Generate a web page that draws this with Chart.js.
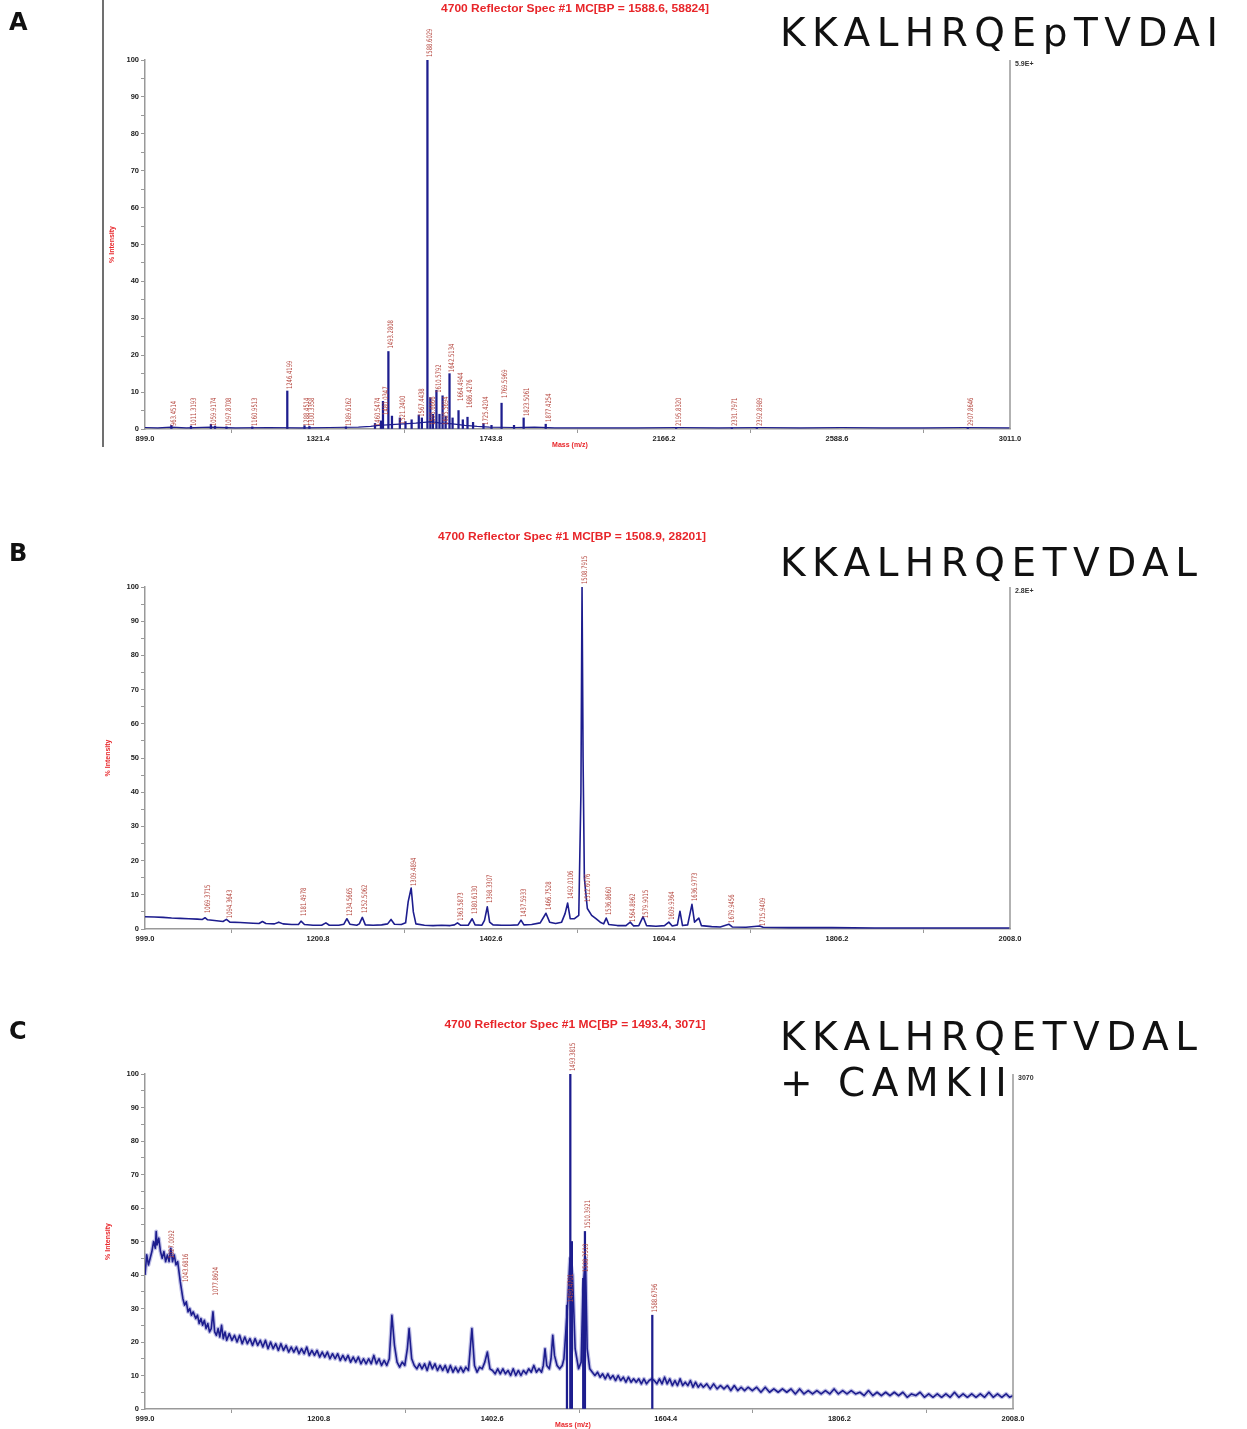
<!DOCTYPE html>
<html>
<head>
<meta charset="utf-8">
<title>MALDI spectra</title>
<script src="https://cdn.jsdelivr.net/npm/chart.js@4.4.1/dist/chart.umd.min.js"></script>
<style>
  body { margin: 0; background: #fff; width: 1247px; height: 1429px; position: relative; overflow: hidden; }
  .panel { position: absolute; left: 0; }
  .letter { position: absolute; left: 9px; font: bold 24px 'DejaVu Sans', sans-serif; color: #111; line-height: 24px; }
  .pep { position: absolute; left: 780px; font: 39px 'DejaVu Sans', sans-serif; line-height: 39px; letter-spacing: 6.5px; color: #111; white-space: nowrap; }
  .frame { position: absolute; left: 102px; top: 0; width: 2px; height: 447px; background: #707070; }
</style>
</head>
<body>
<div class="frame"></div>
<canvas id="chartA" class="panel" style="top:0px" width="1247" height="460"></canvas>
<canvas id="chartB" class="panel" style="top:500px" width="1247" height="460"></canvas>
<canvas id="chartC" class="panel" style="top:990px" width="1247" height="439"></canvas>

<div class="letter" style="top:10px">A</div>
<div class="letter" style="top:541px">B</div>
<div class="letter" style="top:1019px">C</div>
<div class="pep" style="top:13px">KKALHRQEpTVDAI</div>
<div class="pep" style="top:543px">KKALHRQETVDAL</div>
<div class="pep" style="top:1017px">KKALHRQETVDAL</div>
<div class="pep" style="top:1063px">+ CAMKII</div>

<script>
// x axis tick labels (m/z)
var ticksA = [899.0, 1321.4, 1743.8, 2166.2, 2588.6, 3011.0];
var ticksBC = [999.0, 1200.8, 1402.6, 1604.4, 1806.2, 2008.0];

// panel A: baseline [m/z, %] and centroid sticks
var baseA = [[899,0.4],[930,0.3],[963,0.5],[1000,0.3],[1060,0.5],[1120,0.3],[1200,0.4],[1280,0.3],[1350,0.4],[1420,0.5],
  [1450,0.7],[1470,1.0],[1500,1.2],[1530,1.4],[1560,1.6],[1580,1.8],[1600,2.0],[1620,1.6],[1650,1.4],[1680,1.0],
  [1710,0.7],[1740,0.5],[1800,0.4],[1850,0.5],[1900,0.3],[2000,0.3],[2100,0.3],[2200,0.4],[2300,0.3],[2400,0.4],
  [2500,0.3],[2600,0.4],[2700,0.3],[2800,0.3],[2900,0.4],[3011,0.3]];
var sticksA = [[963.45,1],[1011.32,0.8],[1059.92,1.3],[1070,0.8],[1097.87,0.6],[1160.95,0.6],[1246.42,10.3],[1288.45,0.9],
  [1300.34,0.7],[1389.62,0.6],[1460.55,1.5],[1475,2.2],[1480.03,7.5],[1493.28,21],[1502,3.5],[1521.24,3],[1535,2],
  [1550,2.5],[1567.44,3.8],[1575,3],[1588.60,100],[1595.67,8.5],[1602,4],[1610.58,10.5],[1618,4],[1625.57,9],
  [1633,3.5],[1642.51,15],[1650,3],[1664.49,5],[1675,2.5],[1686.43,3.2],[1700,1.8],[1725.42,1.5],[1745,1],
  [1769.60,7],[1800,1],[1823.51,3],[1877.43,1.3],[2195.83,0.3],[2331.80,0.3],[2392.90,0.3],[2907.86,0.3]];
// peak labels: [text, intensity where the label starts]
var labA = [['963.4514',0],['1011.3193',0],['1059.9174',0],['1097.8708',0],['1160.9513',0],['1246.4199',10],
  ['1288.4514',0],['1300.3358',0],['1389.6162',0],['1460.5474',0],['1480.0347',3],['1493.2808',21],['1521.2400',0.5],
  ['1567.4438',2.5],['1588.6029',100],['1595.6666',0.3],['1610.5792',9],['1625.5694',0.3],['1642.5134',14.6],
  ['1664.4944',6.8],['1686.4276',4.9],['1725.4204',0.3],['1769.5969',7.6],['1823.5061',2.7],['1877.4254',1.1],
  ['2195.8320',0],['2331.7971',0],['2392.8989',0],['2907.8646',0]];

// panel B: profile
var baseB = [[999,3.6],[1010,3.5],[1020,3.4],[1030,3.2],[1040,3.1],[1050,3.0],[1060,2.9],[1066,2.8],[1069,3.3],[1072,2.7],
  [1080,2.5],[1090,2.2],[1094,2.8],[1098,2.0],[1110,1.9],[1125,1.7],[1132,1.6],[1136,2.2],[1140,1.6],[1150,1.5],
  [1155,2.0],[1160,1.5],[1170,1.3],[1178,1.3],[1181,2.3],[1185,1.3],[1195,1.1],[1205,1.1],[1210,1.8],[1214,1.1],
  [1225,1.1],[1231,1.4],[1234.5,3.0],[1238,1.4],[1246,1.1],[1249,1.5],[1252.5,3.4],[1256,1.2],[1265,1.1],[1275,1.2],
  [1282,1.5],[1286,2.8],[1290,1.4],[1298,1.3],[1303,1.8],[1306,8],[1309.5,12],[1312,5],[1315,1.5],[1325,1.1],
  [1335,1.0],[1345,1.1],[1355,1.0],[1360,1.2],[1363.5,1.8],[1367,1.1],[1376,1.1],[1380.6,3.0],[1384,1.2],[1392,1.1],
  [1395,2.5],[1398.3,6.5],[1401,2.0],[1405,1.2],[1415,1.1],[1425,1.1],[1434,1.2],[1437.6,2.6],[1441,1.2],[1450,1.3],
  [1460,1.8],[1466.7,4.6],[1471,2.0],[1478,1.6],[1485,2.0],[1489,4.5],[1492,7.6],[1495,3.0],[1500,3.0],[1505,4.0],
  [1507.5,40],[1508.8,100],[1510,50],[1511.5,15],[1512.6,12],[1515,6],[1520,4],[1525,3],[1530,2],[1534,1.5],
  [1537,3.2],[1540,1.3],[1550,1.0],[1560,1.0],[1565,2.0],[1569,0.9],[1575,1.0],[1580,3.6],[1584,1.0],[1595,0.8],
  [1605,1.0],[1610,2.0],[1614,0.9],[1620,1.2],[1623,5.2],[1626,1.0],[1632,1.2],[1637,7.2],[1640,2.0],[1645,3.2],
  [1648,1.0],[1660,0.7],[1670,0.6],[1680,1.4],[1684,0.6],[1700,0.5],[1716,0.9],[1720,0.5],[1750,0.4],[1800,0.4],
  [1850,0.3],[1900,0.3],[1950,0.3],[2008,0.3]];
var sticksB = [];
var labB = [['1069.3715',3.8],['1094.3643',2.3],['1181.4978',2.9],['1234.5665',2.9],['1252.5062',3.8],['1309.4894',11.7],
  ['1363.5873',1.5],['1380.6130',3.5],['1398.3307',6.7],['1437.5933',2.6],['1466.7528',4.7],['1492.0106',7.9],
  ['1508.7915',100],['1512.6076',7],['1536.8660',3.2],['1564.8962',1.2],['1579.9015',2.3],['1609.9364',1.8],
  ['1636.9773',7.3],['1679.9456',0.9],['1715.9409',0]];

// panel C: noisy profile + main peaks
var baseC = [[999,40],[1001,46],[1003,43],[1005,45],[1007,47],[1009,50],[1011,48],[1012,53],[1013,49],[1015,51],
  [1017,47],[1019,45],[1021,47],[1023,44],[1025,46],[1027,44],[1029,48],[1031,44],[1033,46],[1035,43],
  [1037,44],[1040,38],[1043,33],[1045,31],[1047,32],[1049,29],[1051,30],[1053,28],[1055,29],[1058,27],
  [1060,28],[1062,25.5],[1064,27],[1066,25],[1068,26.5],[1070,24],[1072,25.5],[1074,23],[1076,24],[1078,29],
  [1080,23],[1082,22],[1084,24],[1086,21.5],[1088,25],[1090,21],[1092,23],[1094,20.5],[1097,22.5],[1100,20.5],
  [1103,22],[1106,20],[1109,22],[1112,19.5],[1115,21.5],[1118,19.5],[1121,21],[1124,19],[1127,21],[1130,19],
  [1133,20.5],[1136,18.5],[1139,20.5],[1142,18],[1145,20],[1148,18],[1151,19.5],[1154,17.5],[1157,19.5],[1160,17.5],
  [1163,19],[1166,17],[1169,18.5],[1172,17],[1175,18.5],[1178,16.5],[1181,18],[1184,16.5],[1187,18.5],[1190,16],
  [1193,17.5],[1196,16],[1199,17.5],[1202,15.5],[1205,17],[1208,15.5],[1211,17],[1214,15],[1217,16.5],[1220,15],
  [1223,16.5],[1226,14.5],[1229,16],[1232,14.5],[1235,16],[1238,14],[1241,15.5],[1244,14],[1247,15.5],[1250,13.5],
  [1253,15],[1256,13.5],[1259,15],[1262,13.5],[1265,16],[1268,13.5],[1271,15],[1274,13],[1277,14.5],[1280,13],
  [1283,15],[1286,28],[1289,19],[1292,14],[1295,12.5],[1298,14],[1301,13],[1304,18],[1306,24],[1309,15],
  [1312,13],[1315,12],[1318,13.5],[1321,12],[1324,13.5],[1327,11.5],[1330,14],[1333,12],[1336,13.5],[1339,11.5],
  [1342,13],[1345,11.5],[1348,13],[1351,11],[1354,13],[1357,11],[1360,12.5],[1363,11],[1366,12.5],[1369,11],
  [1372,12.5],[1375,11.5],[1379,24],[1382,13],[1385,11],[1388,12.5],[1391,12],[1394,14],[1397,17],[1400,12],
  [1403,11.5],[1406,10.5],[1409,12],[1412,10.5],[1415,12],[1418,10.5],[1421,11.5],[1424,10],[1427,12],[1430,10],
  [1433,11.5],[1436,10],[1439,11.5],[1442,10.5],[1445,12],[1448,11],[1451,13],[1454,11],[1457,12],[1460,11],
  [1462,13],[1464,18],[1466,13],[1469,12],[1471,15],[1473,22],[1475,16],[1478,13],[1481,12],[1484,13],
  [1486,15],[1490,30],[1493,45],[1496,40],[1499,18],[1503,12],[1506,14],[1508,35],[1511,45],[1513,18],
  [1516,12],[1519,11],[1522,10],[1525,11],[1528,9.5],[1531,10.5],[1534,9],[1537,10.5],[1540,9],[1543,10],
  [1546,8.5],[1549,10],[1552,8.5],[1555,9.5],[1558,8],[1561,9.5],[1564,8],[1567,9],[1570,8],[1573,9],
  [1576,7.5],[1579,9],[1582,7.5],[1585,8.5],[1588,9],[1591,8.5],[1594,7.5],[1597,9],[1600,7.5],[1603,9.5],
  [1606,7.5],[1609,9],[1612,7],[1615,8.5],[1618,7],[1621,9],[1624,7],[1627,8],[1630,7],[1633,8.5],
  [1636,6.5],[1639,8],[1642,6.5],[1645,7.5],[1648,6.5],[1652,7.5],[1656,6],[1660,7.5],[1664,6],[1668,7],
  [1672,6],[1676,7],[1680,5.5],[1684,7],[1688,5.5],[1692,6.5],[1696,5.5],[1700,6.5],[1705,5.5],[1710,6.5],
  [1715,5],[1720,6.5],[1725,5],[1730,6],[1735,5],[1740,6],[1745,5],[1750,6],[1755,4.5],[1760,6],
  [1765,4.5],[1770,5.5],[1775,4.5],[1780,5.5],[1785,4.5],[1790,5.5],[1795,4.5],[1800,6],[1805,4.5],[1810,5.5],
  [1815,4.5],[1820,5.5],[1825,4.5],[1830,5],[1835,4],[1840,5.5],[1845,4],[1850,5],[1855,4],[1860,5],
  [1865,4],[1870,5],[1875,4],[1880,5],[1885,3.5],[1890,4.5],[1895,4],[1900,5],[1905,3.5],[1910,4.5],
  [1915,3.5],[1920,4.5],[1925,3.5],[1930,4.5],[1935,3.5],[1940,5],[1945,3.5],[1950,4.5],[1955,3.5],[1960,4.5],
  [1965,3.5],[1970,4.5],[1975,3.5],[1980,5],[1985,3.5],[1990,4.5],[1995,3.5],[2000,4.5],[2004,3.5],[2008,4]];
var sticksC = [[1489.5,31],[1493.4,100],[1495.2,50],[1508.4,39],[1510.4,53],[1588.7,28]];
var labC = [['1027.0092',44],['1043.6816',37],['1077.8604',33],['1490.4701',31],['1493.3815',100],
  ['1508.3510',40],['1510.3921',53],['1588.6796',28]];

var navy = '#1d1d8e';
var tickFont = { family: "'Liberation Sans', Arial, sans-serif", size: 7.5, weight: 'bold' };

// draws title, right axis, axis titles and peak labels
var overlay = {
  id: 'overlay',
  afterDraw: function (chart, args, o) {
    var ctx = chart.ctx, a = chart.chartArea;
    var xs = chart.scales.x, ys = chart.scales.y;
    ctx.save();
    // right axis
    ctx.strokeStyle = '#999';
    ctx.lineWidth = 1.5;
    ctx.beginPath();
    ctx.moveTo(a.right, a.top);
    ctx.lineTo(a.right, a.bottom);
    ctx.stroke();
    ctx.fillStyle = '#333';
    ctx.font = "bold 7px 'Liberation Sans', Arial, sans-serif";
    ctx.textAlign = 'left';
    ctx.textBaseline = 'middle';
    ctx.fillText(o.scaleText, a.right + 5, a.top + 4);
    // title, stretched a little
    ctx.fillStyle = '#e8262a';
    ctx.font = "bold 10px 'Liberation Sans', Arial, sans-serif";
    ctx.textAlign = 'center';
    ctx.save();
    ctx.translate(o.titleX, o.titleY);
    ctx.scale(1.2, 1);
    ctx.fillText(o.title, 0, 0);
    ctx.restore();
    // axis titles
    ctx.font = "bold 7px 'Liberation Sans', Arial, sans-serif";
    if (o.massLabel) ctx.fillText('Mass (m/z)', o.massX, o.massY);
    ctx.save();
    ctx.translate(o.intX, (a.top + a.bottom) / 2);
    ctx.rotate(-Math.PI / 2);
    ctx.fillText('% Intensity', 0, 0);
    ctx.restore();
    // peak labels
    ctx.fillStyle = '#b5473f';
    ctx.font = "7.5px 'Liberation Sans Narrow', 'DejaVu Sans Condensed', sans-serif";
    ctx.textAlign = 'left';
    o.labels.forEach(function (l) {
      var x = xs.getPixelForValue(parseFloat(l[0])) + 3;
      var y = ys.getPixelForValue(l[1]) - 3;
      ctx.save();
      ctx.translate(x, y);
      ctx.rotate(-Math.PI / 2);
      ctx.scale(0.78, 1);
      ctx.fillText(l[0], 0, 0);
      ctx.restore();
    });
    ctx.restore();
  }
};

function makeSpectrum(id, p) {
  var pts = function (arr) { return arr.map(function (d) { return { x: d[0], y: d[1] }; }); };
  var datasets = [];
  if (p.halo) {
    datasets.push({ type: 'line', data: pts(p.base), borderColor: 'rgba(70,70,180,0.35)', borderWidth: 4, borderJoinStyle: 'round', pointRadius: 0, tension: 0, order: 3 });
  }
  datasets.push({ type: 'line', data: pts(p.base), borderColor: navy, borderWidth: p.lw, borderJoinStyle: 'round', pointRadius: 0, tension: 0, order: 2 });
  datasets.push({ type: 'bar', data: pts(p.sticks), backgroundColor: navy, barThickness: 1.6, order: 1 });

  return new Chart(document.getElementById(id), {
    type: 'line',
    data: { datasets: datasets },
    options: {
      responsive: false,
      animation: false,
      devicePixelRatio: 1,
      layout: { padding: { left: 115, right: p.padR, top: p.padT, bottom: p.padB } },
      plugins: {
        legend: { display: false },
        tooltip: { enabled: false },
        overlay: p.overlay
      },
      scales: {
        x: {
          type: 'linear',
          min: p.ticks[0],
          max: p.ticks[p.ticks.length - 1],
          offset: false,
          afterBuildTicks: function (s) { s.ticks = p.ticks.map(function (v) { return { value: v }; }); },
          afterFit: function (s) { s.height = 20; },
          ticks: { autoSkip: false, maxRotation: 0, padding: 1, color: '#222', font: tickFont,
            callback: function (v) { return Number(v).toFixed(1); } },
          grid: { drawOnChartArea: false, tickLength: 4, color: '#999' },
          border: { color: '#999', width: 1.5 }
        },
        y: {
          min: 0,
          max: 100,
          afterFit: function (s) { s.width = 30; },
          ticks: { stepSize: 5, padding: 2, color: '#222', font: tickFont,
            callback: function (v) { return v % 10 === 0 ? v : ''; } },
          grid: { drawOnChartArea: false, tickLength: 4, color: '#999' },
          border: { color: '#999', width: 1.5 }
        }
      }
    },
    plugins: [overlay]
  });
}

makeSpectrum('chartA', {
  base: baseA, sticks: sticksA, ticks: ticksA, lw: 1.2, padR: 237, padT: 60, padB: 11,
  overlay: { title: '4700 Reflector Spec #1 MC[BP = 1588.6, 58824]', titleX: 575, titleY: 9,
    scaleText: '5.9E+', intX: 112, massLabel: true, massX: 570, massY: 445, labels: labA }
});
makeSpectrum('chartB', {
  base: baseB, sticks: sticksB, ticks: ticksBC, lw: 1.6, padR: 237, padT: 87, padB: 11,
  overlay: { title: '4700 Reflector Spec #1 MC[BP = 1508.9, 28201]', titleX: 572, titleY: 37,
    scaleText: '2.8E+', intX: 108, massLabel: false, labels: labB }
});
makeSpectrum('chartC', {
  base: baseC, sticks: sticksC, ticks: ticksBC, lw: 1.6, halo: true, padR: 234, padT: 84, padB: 0,
  overlay: { title: '4700 Reflector Spec #1 MC[BP = 1493.4, 3071]', titleX: 575, titleY: 35,
    scaleText: '3070', intX: 108, massLabel: true, massX: 573, massY: 435, labels: labC }
});
</script>
</body>
</html>
